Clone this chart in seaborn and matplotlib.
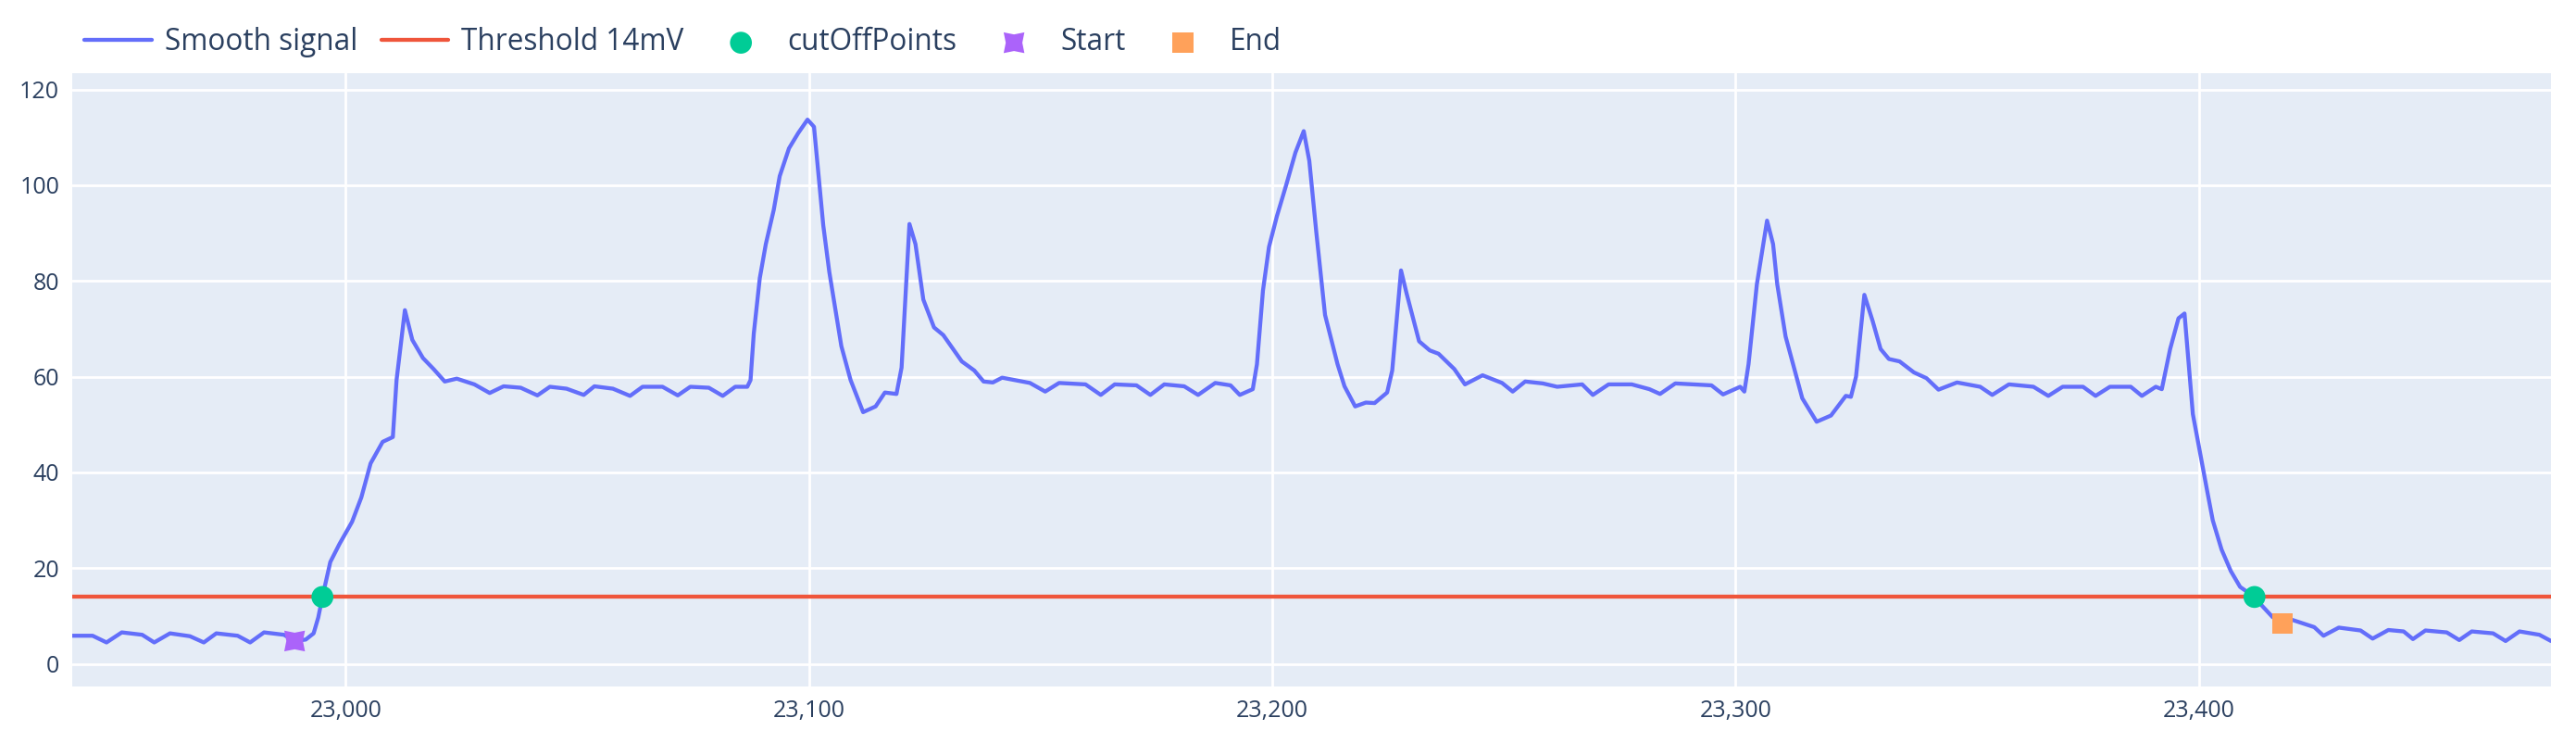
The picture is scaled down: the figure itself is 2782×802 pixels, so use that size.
import numpy as np
import pandas as pd
import matplotlib.pyplot as plt
import seaborn as sns
from matplotlib.path import Path
from matplotlib.ticker import FuncFormatter

# smoothed signal (sample index, mV)
signal_x = [22941, 22945.4, 22948.4, 22951.7, 22956.1, 22958.7, 22962.1, 22966.4, 22969.4, 22972.1,
            22976.7, 22979.4, 22982.4, 22986.7, 22989.0, 22991.4, 22993.1, 22994.1, 22995.0, 22996.7,
            22998.7, 23001.4, 23003.4, 23005.4, 23008.0, 23010.2, 23011.0, 23012.8, 23014.4, 23016.7,
            23019.0, 23021.4, 23024.0, 23027.8, 23031.1, 23034.1, 23037.8, 23041.4, 23044.1, 23047.7,
            23051.4, 23053.7, 23057.7, 23061.4, 23064.1, 23068.4, 23071.7, 23074.4, 23078.4, 23081.4,
            23084.1, 23086.7, 23087.4, 23088.1, 23089.4, 23090.7, 23092.4, 23093.7, 23095.7, 23097.7,
            23099.7, 23101.1, 23103.1, 23104.4, 23107.0, 23109.0, 23111.7, 23114.4, 23116.4, 23118.9,
            23120.0, 23121.7, 23123.0, 23124.7, 23127.0, 23129.0, 23133.0, 23135.7, 23137.7, 23139.7,
            23141.7, 23144.4, 23147.7, 23151.0, 23154.0, 23159.7, 23163.0, 23166.0, 23170.7, 23173.7,
            23176.7, 23181.0, 23184.0, 23187.7, 23191.0, 23193.0, 23195.8, 23196.7, 23198.0, 23199.3,
            23201.0, 23203.0, 23205.0, 23206.8, 23208.0, 23209.5, 23211.4, 23214.1, 23215.6, 23217.9,
            23220.2, 23222.1, 23224.8, 23225.9, 23227.8, 23229.0, 23231.7, 23234.0, 23235.9, 23239.3,
            23241.6, 23245.4, 23249.6, 23251.9, 23254.6, 23258.4, 23261.5, 23266.9, 23269.2, 23272.6,
            23277.6, 23281.4, 23283.7, 23287.0, 23294.8, 23297.3, 23301.0, 23301.9, 23302.8, 23304.6,
            23306.8, 23308.1, 23309.0, 23310.8, 23314.4, 23317.5, 23320.6, 23323.8, 23324.9, 23326.0,
            23327.8, 23329.6, 23331.3, 23333.1, 23335.4, 23338.5, 23341.2, 23343.8, 23347.8, 23352.8,
            23355.4, 23359.0, 23364.3, 23367.5, 23370.6, 23375.0, 23377.7, 23380.8, 23385.3, 23387.7,
            23390.7, 23392.0, 23393.8, 23395.6, 23396.9, 23398.7, 23401.8, 23403.0, 23404.9, 23406.9,
            23408.9, 23412.0, 23413.5, 23415.9, 23418.0, 23420.2, 23424.9, 23426.9, 23430.2, 23434.9,
            23437.5, 23440.9, 23444.2, 23446.2, 23448.9, 23453.5, 23456.2, 23458.9, 23463.5, 23466.2,
            23469.2, 23473.5, 23476.0]
signal_y = [5.9, 5.9, 4.5, 6.6, 6.1, 4.5, 6.4, 5.8, 4.5, 6.4,
            5.9, 4.5, 6.6, 6.1, 4.8, 5.1, 6.4, 9.7, 14.0, 21.3,
            25.1, 29.7, 34.8, 41.9, 46.4, 47.4, 59.3, 73.9, 67.7, 63.9,
            61.6, 59.0, 59.6, 58.4, 56.6, 58.0, 57.7, 56.1, 57.9, 57.5,
            56.2, 58.0, 57.5, 56.0, 57.9, 57.9, 56.1, 57.9, 57.7, 56.0,
            57.9, 57.9, 59.3, 69.0, 80.6, 87.7, 94.8, 101.9, 107.7, 110.9,
            113.7, 112.2, 91.6, 81.9, 66.4, 59.3, 52.6, 53.8, 56.7, 56.4,
            61.9, 91.9, 87.7, 76.1, 70.3, 68.7, 63.2, 61.3, 59.0, 58.8,
            59.8, 59.3, 58.7, 56.9, 58.7, 58.4, 56.2, 58.4, 58.2, 56.2,
            58.4, 58.0, 56.2, 58.7, 58.2, 56.2, 57.4, 62.6, 78.0, 87.1,
            93.5, 100.0, 106.8, 111.3, 105.1, 90.3, 72.9, 62.6, 58.0, 53.8,
            54.6, 54.5, 56.7, 61.3, 82.2, 77.4, 67.4, 65.5, 64.8, 61.6,
            58.4, 60.3, 58.7, 56.9, 59.0, 58.6, 57.9, 58.4, 56.2, 58.4,
            58.4, 57.4, 56.4, 58.6, 58.2, 56.3, 57.9, 56.9, 62.6, 79.3,
            92.6, 87.7, 79.3, 68.4, 55.5, 50.6, 51.9, 56.0, 55.8, 60.0,
            77.1, 71.6, 65.8, 63.7, 63.2, 60.9, 59.7, 57.3, 58.8, 57.9,
            56.2, 58.4, 57.9, 56.0, 57.9, 57.9, 56.0, 57.9, 57.9, 56.0,
            57.9, 57.4, 65.8, 72.2, 73.2, 52.2, 36.1, 30.0, 23.9, 19.4,
            16.1, 14.0, 12.3, 9.8, 8.6, 9.2, 7.7, 5.9, 7.6, 7.0,
            5.3, 7.1, 6.8, 5.2, 7.0, 6.6, 5.0, 6.8, 6.4, 4.8,
            6.8, 6.1, 4.8]

threshold = 14
cutoff_x = [22995.0, 23412.0]
cutoff_y = [14.0, 14.0]
start_x = [22989.0]
start_y = [4.8]
end_x = [23418.0]
end_y = [8.4]

df = pd.DataFrame({"x": signal_x, "y": signal_y})
thr = pd.DataFrame({"x": [signal_x[0], signal_x[-1]], "y": [threshold, threshold]})

# plotly-like "star-square" marker
star_square = Path([(-1, -1), (0, -0.8), (1, -1), (0.8, 0), (1, 1), (0, 0.8),
                    (-1, 1), (-0.8, 0), (-1, -1)], closed=True)

sns.set_style("white")
plt.rcParams['font.family'] = ['Open Sans', 'DejaVu Sans']

fig = plt.figure(figsize=(27.82, 8.02), dpi=100)
ax = fig.add_axes([78 / 2782, 61 / 802, 2677 / 2782, 662 / 802])
ax.set_facecolor("#E5ECF6")

sns.lineplot(data=df, x="x", y="y", color="#636EFA", lw=3.1, ax=ax,
             label="Smooth signal", zorder=3)
sns.lineplot(data=thr, x="x", y="y", color="#EF553B", lw=3.1, ax=ax,
             label="Threshold 14mV", zorder=2)
sns.scatterplot(x=cutoff_x, y=cutoff_y, color="#00CC96", s=290, marker="o",
                edgecolor="none", ax=ax, label="cutOffPoints", zorder=4)
sns.scatterplot(x=start_x, y=start_y, color="#AB63FA", s=260, marker=star_square,
                edgecolor="none", ax=ax, label="Start", zorder=4)
sns.scatterplot(x=end_x, y=end_y, color="#FFA15A", s=260, marker="s",
                edgecolor="none", ax=ax, label="End", zorder=4)

ax.set_xlim(signal_x[0], signal_x[-1])
ax.set_ylim(-4.7, 123.4)
ax.set_xticks([23000, 23100, 23200, 23300, 23400])
ax.set_yticks(range(0, 121, 20))
ax.xaxis.set_major_formatter(FuncFormatter(lambda v, p: f"{int(v):,}"))
ax.grid(True, color="white", lw=2)
ax.set_axisbelow(True)
for s in ax.spines.values():
    s.set_visible(False)
ax.tick_params(length=0, labelsize=18, colors="#2a3f5f", pad=10)
ax.set_xlabel("")
ax.set_ylabel("")

leg = ax.legend(ncol=5, loc="center left", bbox_to_anchor=(0.0015, 1.05),
                frameon=True, fontsize=22.7, handlelength=2.3, columnspacing=0.8,
                handletextpad=0.45, borderaxespad=0, borderpad=0.3)
leg.get_frame().set_facecolor("white")
leg.get_frame().set_edgecolor("none")
leg.get_frame().set_boxstyle("square", pad=0.2)
for t in leg.get_texts():
    t.set_color("#2a3f5f")

fig.savefig("out.png", dpi=100, facecolor="white")
